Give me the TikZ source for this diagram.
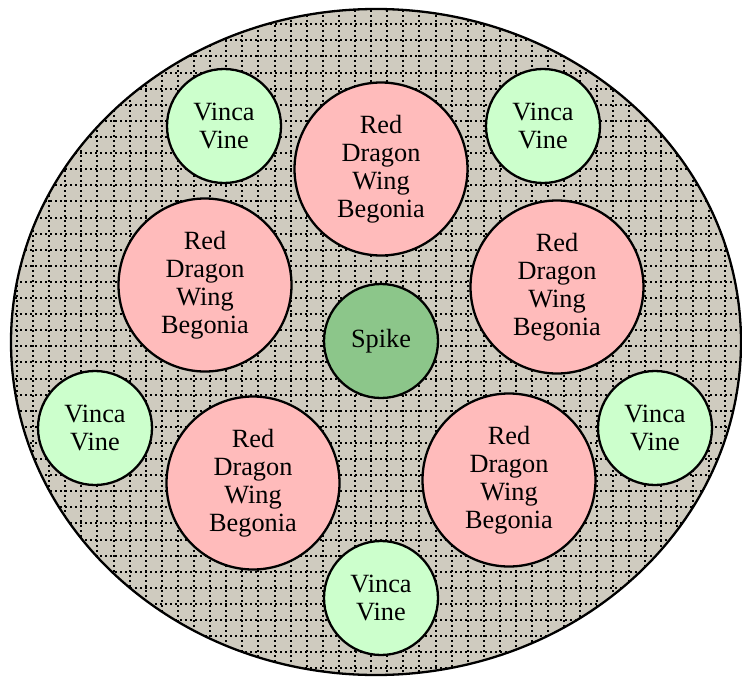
\documentclass[tikz,border=0pt]{standalone}
\usepackage{fontspec}
\setmainfont{Liberation Serif}
\usetikzlibrary{positioning}

\definecolor{bedcolor}{RGB}{207,203,191}
\definecolor{vincacolor}{RGB}{204,255,204}
\definecolor{begoniacolor}{RGB}{255,187,187}
\definecolor{spikecolor}{RGB}{140,198,138}

\tikzset{
  plant/.style = {draw, circle, line width=2.3pt, inner sep=0pt, align=center,
                  font=\fontsize{26.3}{28}\selectfont},
  vinca/.style = {plant, fill=vincacolor, minimum size=114pt},
  begonia/.style = {plant, fill=begoniacolor, minimum size=173pt},
  spike/.style = {plant, fill=spikecolor, minimum size=114pt},
  gridline/.style = {line width=2pt, dash pattern=on 2pt off 3pt}
}

\begin{document}
\begin{tikzpicture}[x=1pt, y=-1pt]
          \useasboundingbox (0,0) rectangle (742,677);

          % the bed
          \fill[bedcolor] (376,342) ellipse [x radius=365, y radius=333];
          \begin{scope}
            \clip (376,342) ellipse [x radius=365, y radius=333];
            \foreach \i in {0,...,46}
              \draw[gridline] (0.8+16.1*\i,0) -- (0.8+16.1*\i,677);
            \foreach \j in {0,...,42}
              \draw[gridline] (0,8.2+16.1*\j) -- (742,8.2+16.1*\j);
          \end{scope}
          \draw[line width=2.3pt] (376,342) ellipse [x radius=365, y radius=333];

          % plants
          \node[spike]   at (381,341) (spike) {Spike};

          \node[begonia] at (381,169) (begT)  {Red\\Dragon\\Wing\\Begonia};
          \node[begonia] at (205,285) (begL)  {Red\\Dragon\\Wing\\Begonia};
          \node[begonia] at (557,287) (begR)  {Red\\Dragon\\Wing\\Begonia};
          \node[begonia] at (253,483) (begBL) {Red\\Dragon\\Wing\\Begonia};
          \node[begonia] at (509,480) (begBR) {Red\\Dragon\\Wing\\Begonia};

          \node[vinca]   at (224,126) (vinTL) {Vinca\\Vine};
          \node[vinca]   at (543,126) (vinTR) {Vinca\\Vine};
          \node[vinca]   at (95,428)  (vinL)  {Vinca\\Vine};
          \node[vinca]   at (655,428) (vinR)  {Vinca\\Vine};
          \node[vinca]   at (381,598) (vinB)  {Vinca\\Vine};
        \end{tikzpicture}
\end{document}
